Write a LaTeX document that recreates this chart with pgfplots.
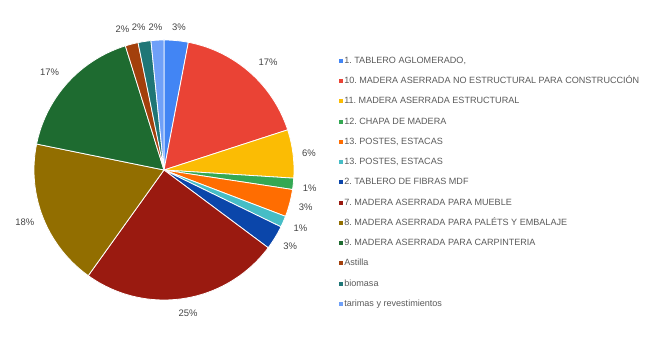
\documentclass[border=0pt]{standalone}
\usepackage{pgfplots}
\pgfplotsset{compat=1.18}
\usepackage{fontspec}
\setmainfont{Liberation Sans}
\frenchspacing
\definecolor{c1}{HTML}{4285F4}
\definecolor{c2}{HTML}{EA4335}
\definecolor{c3}{HTML}{FBBC04}
\definecolor{c4}{HTML}{34A853}
\definecolor{c5}{HTML}{FF6D01}
\definecolor{c6}{HTML}{46BDC6}
\definecolor{c7}{HTML}{0B46AA}
\definecolor{c8}{HTML}{9A1A10}
\definecolor{c9}{HTML}{926E00}
\definecolor{c10}{HTML}{1E6B30}
\definecolor{c11}{HTML}{A3400C}
\definecolor{c12}{HTML}{1F7676}
\definecolor{c13}{HTML}{6FA0F8}
\definecolor{lblgray}{HTML}{444444}
\definecolor{leggray}{HTML}{5A5A5A}
% #1 = cumulative start (%), #2 = cumulative end (%), #3 colour, #4 legend
\newcommand{\slice}[4]{%
  \pgfmathsetmacro\da{90-3.6*#2}%
  \pgfmathsetmacro\db{90-3.6*#1}%
  \addplot[fill=#3, draw=white, line width=0.8bp, domain=\da:\db, samples=61, variable=\t]
    ({cos(\t)},{sin(\t)}) -- (axis cs:0,0) -- cycle;
  \addlegendentry{#4}%
}
\begin{document}
\begin{tikzpicture}
\begin{axis}[
  x=130bp, y=130bp,
  xmin=-1.2615, xmax=3.8154, ymin=-1.3385, ymax=1.3077,
  axis line style={draw=none}, ticks=none, clip=false,
  legend cell align=left,
  legend image code/.code={\fill[#1, draw=none] (0bp,-2bp) rectangle (4bp,2bp);},
  legend style={at={(0.513,0.837)}, anchor=north west, draw=none, fill=none,
    inner sep=0pt, row sep=11.25bp,
    font=\fontsize{9.1}{10}\selectfont,
    nodes={text=leggray, text height=7bp, text depth=2bp, inner xsep=1.5bp, inner ysep=0pt}},
]
\slice{0}{3.0}{c1}{1. TABLERO AGLOMERADO,}
\slice{3.0}{20.0}{c2}{10. MADERA ASERRADA NO ESTRUCTURAL PARA CONSTRUCCIÓN}
\slice{20.0}{26.0}{c3}{11. MADERA ASERRADA ESTRUCTURAL}
\slice{26.0}{27.4}{c4}{12. CHAPA DE MADERA}
\slice{27.4}{30.8}{c5}{13. POSTES, ESTACAS}
\slice{30.8}{32.2}{c6}{13. POSTES, ESTACAS}
\slice{32.2}{35.2}{c7}{2. TABLERO DE FIBRAS MDF}
\slice{35.2}{59.9}{c8}{7. MADERA ASERRADA PARA MUEBLE}
\slice{59.9}{78.2}{c9}{8. MADERA ASERRADA PARA PALÉTS Y EMBALAJE}
\slice{78.2}{95.2}{c10}{9. MADERA ASERRADA PARA CARPINTERIA}
\slice{95.2}{96.8}{c11}{Astilla}
\slice{96.8}{98.4}{c12}{biomasa}
\slice{98.4}{100}{c13}{tarimas y revestimientos}
\begin{scope}[every node/.style={font=\fontsize{9.5}{10}\selectfont, text=lblgray}]
\node at (axis cs:0.115,1.10) {3\%};
\node at (axis cs:0.80,0.83) {17\%};
\node at (axis cs:1.115,0.13) {6\%};
\node at (axis cs:1.12,-0.14) {1\%};
\node at (axis cs:1.09,-0.29) {3\%};
\node at (axis cs:1.05,-0.45) {1\%};
\node at (axis cs:0.97,-0.59) {3\%};
\node at (axis cs:0.185,-1.10) {25\%};
\node at (axis cs:-1.07,-0.40) {18\%};
\node at (axis cs:-0.88,0.75) {17\%};
\node at (axis cs:-0.32,1.08) {2\%};
\node at (axis cs:-0.195,1.10) {2\%};
\node at (axis cs:-0.065,1.10) {2\%};
\end{scope}
\end{axis}
\end{tikzpicture}
\end{document}
